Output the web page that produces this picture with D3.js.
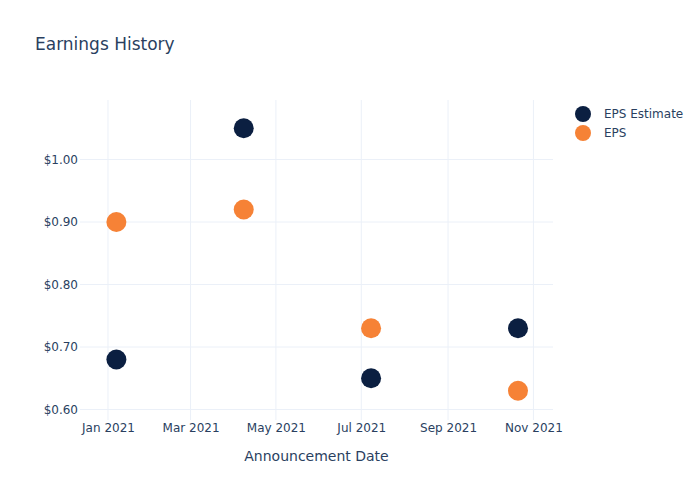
<!DOCTYPE html>
<html>
<head>
<meta charset="utf-8">
<script src="https://cdn.jsdelivr.net/npm/d3@7"></script>
<style>
  body { margin: 0; background: #fff; }
  svg { font-family: "DejaVu Sans", Verdana, sans-serif; }
</style>
</head>
<body>
<div class="chart"></div>
<script>
// announcement dates and values
var dates = ['2021-01-07', '2021-04-08', '2021-07-08', '2021-10-21'];
var epsEstimate = [0.68, 1.05, 0.65, 0.73];
var eps = [0.90, 0.92, 0.73, 0.63];
var seriesNames = ['EPS Estimate', 'EPS'];
var seriesColors = ['#0b1f41', '#f68236'];
var yTicks = [0.60, 0.70, 0.80, 0.90, 1.00];
var xTicks = ['2021-01-01', '2021-03-01', '2021-05-01', '2021-07-01', '2021-09-01', '2021-11-01'];

var parseDate = d3.timeParse('%Y-%m-%d');
var series = [epsEstimate, eps].map((vals, i) => ({
  name: seriesNames[i],
  color: seriesColors[i],
  values: vals.map((v, j) => ({ date: parseDate(dates[j]), value: v }))
}));

var width = 700, height = 500;
var margin = { top: 100, right: 147, bottom: 80, left: 80 };
var innerW = width - margin.left - margin.right;
var innerH = height - margin.top - margin.bottom;

var svg = d3.select('.chart')
  .append('svg')
  .attr('width', width)
  .attr('height', height);

var g = svg.append('g')
  .attr('transform', `translate(${margin.left}, ${margin.top})`);

var xScale = d3.scaleTime()
  .domain([parseDate('2020-12-12'), parseDate('2021-11-15')])
  .range([0, innerW]);

var yScale = d3.scaleLinear()
  .domain([0.5832, 1.0952])
  .range([innerH, 0]);

var gridColor = '#ebf0f8';
var textColor = '#2a3f5f';

// gridlines
g.append('g')
  .selectAll('line')
  .data(xTicks.map(parseDate))
  .enter()
  .append('line')
  .attr('x1', d => xScale(d))
  .attr('x2', d => xScale(d))
  .attr('y1', 0)
  .attr('y2', innerH)
  .style('stroke', gridColor)
  .style('stroke-width', 1);

g.append('g')
  .selectAll('line')
  .data(yTicks)
  .enter()
  .append('line')
  .attr('x1', 0)
  .attr('x2', innerW)
  .attr('y1', d => yScale(d))
  .attr('y2', d => yScale(d))
  .style('stroke', gridColor)
  .style('stroke-width', 1);

// axes (no domain line, no tick marks)
var xAxis = d3.axisBottom(xScale)
  .tickValues(xTicks.map(parseDate))
  .tickFormat(d3.timeFormat('%b %Y'))
  .tickSize(0)
  .tickPadding(3);
var xg = g.append('g')
  .attr('transform', `translate(0, ${innerH})`)
  .call(xAxis);
xg.select('.domain').remove();
xg.selectAll('text')
  .style('font-size', '12px')
  .style('fill', textColor)
  .style('font-family', '"DejaVu Sans", sans-serif');

var yAxis = d3.axisLeft(yScale)
  .tickValues(yTicks)
  .tickFormat(d => '$' + d.toFixed(2))
  .tickSize(0)
  .tickPadding(2);
var yg = g.append('g').call(yAxis);
yg.select('.domain').remove();
yg.selectAll('text')
  .style('font-size', '12px')
  .style('fill', textColor)
  .style('font-family', '"DejaVu Sans", sans-serif');

// points
series.forEach(s => {
  g.append('g')
    .selectAll('circle')
    .data(s.values)
    .enter()
    .append('circle')
    .attr('cx', d => xScale(d.date))
    .attr('cy', d => yScale(d.value))
    .attr('r', 10)
    .style('fill', s.color);
});

// title and axis title
svg.append('text')
  .attr('x', 35)
  .attr('y', 50)
  .style('font-size', '17px')
  .style('fill', textColor)
  .text('Earnings History');

svg.append('text')
  .attr('x', margin.left + innerW / 2)
  .attr('y', 461)
  .attr('text-anchor', 'middle')
  .style('font-size', '14px')
  .style('fill', textColor)
  .text('Announcement Date');

// legend
var legend = svg.append('g')
  .attr('transform', 'translate(583, 114)');
var items = legend.selectAll('g')
  .data(series)
  .enter()
  .append('g')
  .attr('transform', (d, i) => `translate(0, ${i * 19})`);
items.append('circle')
  .attr('r', 8)
  .style('fill', d => d.color);
items.append('text')
  .attr('x', 21)
  .attr('y', 4)
  .style('font-size', '12px')
  .style('fill', textColor)
  .text(d => d.name);
</script>
</body>
</html>
